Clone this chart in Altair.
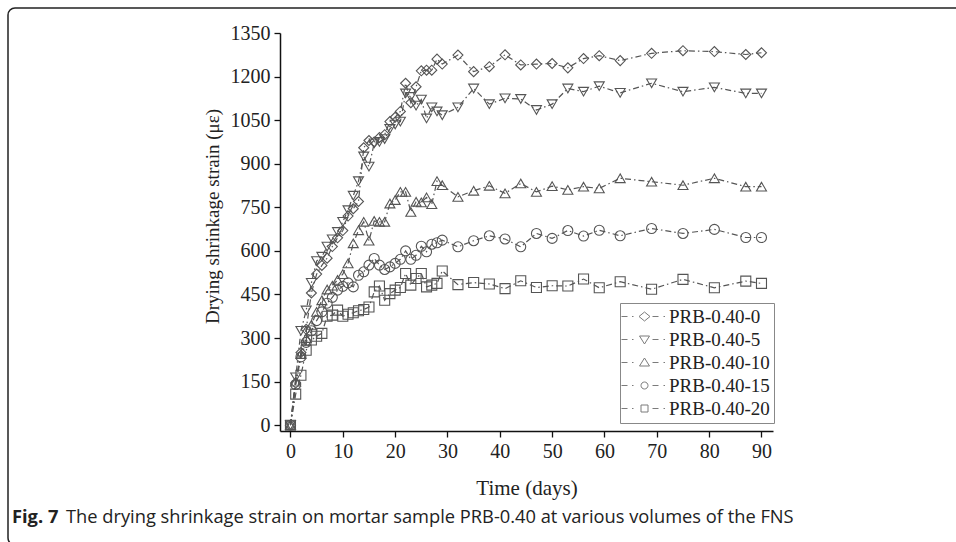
import altair as alt
import pandas as pd

days = list(range(0, 29)) + [29, 32, 35, 38, 41, 44, 47, 50, 53, 56, 59, 63, 69, 75, 81, 87, 90]

names = ["PRB-0.40-0", "PRB-0.40-5", "PRB-0.40-10", "PRB-0.40-15", "PRB-0.40-20"]

s0 = [0, 145, 250, 330, 455, 520, 550, 575, 615, 645, 670, 720, 745, 770, 955, 980, 975, 990, 1000,
      1045, 1060, 1080, 1177, 1110, 1165, 1220, 1222, 1222, 1260,
      1243, 1274, 1217, 1234, 1275, 1240, 1243, 1245, 1230, 1262, 1272, 1255, 1280, 1289, 1286, 1276, 1282]
s5 = [0, 165, 325, 395, 490, 565, 580, 615, 640, 665, 700, 740, 790, 840, 925, 890, 970, 975, 985,
      1020, 1035, 1045, 1142, 1130, 1100, 1121, 1056, 1094, 1080,
      1067, 1094, 1159, 1105, 1125, 1123, 1085, 1105, 1159, 1148, 1167, 1144, 1177, 1148, 1163, 1142, 1142]
s10 = [0, 150, 245, 300, 345, 390, 430, 467, 480, 500, 520, 557, 626, 671, 700, 635, 703, 700, 700,
       763, 775, 803, 803, 734, 769, 767, 784, 761, 840,
       826, 786, 807, 824, 798, 832, 803, 823, 810, 821, 815, 850, 838, 826, 850, 821, 821]
s15 = [0, 140, 235, 285, 325, 360, 390, 420, 440, 465, 478, 490, 476, 516, 528, 551, 574, 551, 536,
       545, 557, 571, 600, 571, 585, 616, 597, 623, 628,
       637, 614, 635, 652, 641, 614, 660, 643, 670, 651, 671, 652, 677, 660, 674, 646, 646]
s20 = [0, 107, 172, 258, 293, 306, 316, 375, 379, 396, 375, 382, 387, 394, 398, 407, 459, 479, 430,
       453, 465, 474, 522, 482, 505, 522, 476, 482, 488,
       531, 484, 491, 486, 470, 497, 474, 480, 479, 503, 473, 494, 468, 502, 473, 496, 488]

x_ticks = list(range(0, 91, 5))
y_ticks = list(range(0, 1351, 75))

caption_bold = "Fig. 7"
caption_text = "The drying shrinkage strain on mortar sample PRB-0.40 at various volumes of the FNS"

rows = []
for n, vals in zip(names, [s0, s5, s10, s15, s20]):
    for d, v in zip(days, vals):
        rows.append({"series": n, "day": d, "strain": v})
df = pd.DataFrame(rows)

SERIF = "Liberation Serif"
INK = "#222222"
LINE = "#555555"

xscale = alt.Scale(domain=[-2, 92.2], nice=False, zero=False)
yscale = alt.Scale(domain=[-20, 1350], nice=False, zero=False)

xaxis = alt.Axis(
    values=x_ticks, labelExpr="datum.value % 10 === 0 ? datum.label : ''",
    title="Time (days)", grid=False, domainColor="#111", domainWidth=1.5,
    tickColor="#111", tickWidth=1.3,
    tickSize={"condition": {"test": "datum.value % 10 === 0", "value": 6}, "value": 3},
    labelFont=SERIF, labelFontSize=20, labelColor=INK, labelPadding=4,
    titleFont=SERIF, titleFontSize=21, titleFontWeight="normal", titleColor=INK, titlePadding=16,
)
yaxis = alt.Axis(
    values=y_ticks, format="d", labelExpr="datum.value % 150 === 0 ? datum.label : ''",
    title="Drying shrinkage strain (με)", grid=False, domainColor="#111", domainWidth=1.5,
    tickColor="#111", tickWidth=1.3,
    tickSize={"condition": {"test": "datum.value % 150 === 0", "value": 6}, "value": 3},
    labelFont=SERIF, labelFontSize=20, labelColor=INK, labelPadding=4,
    titleFont=SERIF, titleFontSize=19, titleFontWeight="normal", titleColor=INK,
    titleX=-68, titleY=183, titleBaseline="middle", titleAngle=270,
)

base = alt.Chart(df)

lines = base.mark_line(color=LINE, strokeWidth=1.2, strokeDash=[6, 3, 1.5, 3]).encode(
    x=alt.X("day:Q", scale=xscale, axis=xaxis),
    y=alt.Y("strain:Q", scale=yscale, axis=yaxis),
    detail="series:N",
)

points = base.mark_point(filled=False, color=LINE, strokeWidth=1.1, opacity=1).encode(
    x=alt.X("day:Q", scale=xscale),
    y=alt.Y("strain:Q", scale=yscale),
    shape=alt.Shape("series:N", scale=alt.Scale(domain=names,
                    range=["diamond", "triangle-down", "triangle-up", "circle", "square"]), legend=None),
    size=alt.Size("series:N", scale=alt.Scale(domain=names, range=[100, 100, 100, 55, 50]), legend=None),
)


def sym(marker):
    # units: 1 unit = 2 px (legend symbolSize 16)
    return "M-11.5,0L-8.5,0M-6.25,0L-5.5,0" + marker + "M4,0L7,0M9.5,0L10.25,0"


legend_paths = [
    sym("M0,-2.25L2.75,0L0,2.25L-2.75,0Z"),
    sym("M-2.5,-1.75L2.5,-1.75L0,2.25Z"),
    sym("M-2.5,1.75L2.5,1.75L0,-2.25Z"),
    sym("M1.75,0A1.75,1.75 0 1,1 -1.75,0A1.75,1.75 0 1,1 1.75,0Z"),
    sym("M-1.75,-1.75L1.75,-1.75L1.75,1.75L-1.75,1.75Z"),
]

legend_layer = base.transform_filter("false").mark_point(filled=False, color="#444", strokeWidth=1).encode(
    shape=alt.Shape("series:N", scale=alt.Scale(domain=names, range=legend_paths),
                    legend=alt.Legend(title=None, orient="none", legendX=340, legendY=270,
                                      strokeColor="#888", fillColor="white", padding=4,
                                      symbolSize=16, symbolStrokeWidth=1, symbolStrokeColor="#444",
                                      symbolOffset=11, labelOffset=15, rowPadding=3,
                                      labelFont=SERIF, labelFontSize=19, labelColor=INK)),
)

one = alt.Chart(pd.DataFrame({"a": [0]}))
border = one.mark_rect(fillOpacity=0, stroke="#222", strokeWidth=1.5, cornerRadius=7).encode(
    x=alt.value(-272), x2=alt.value(700), y=alt.value(-25), y2=alt.value(512))
cap1 = one.mark_text(text=caption_bold, font="Open Sans", fontWeight="bold", fontSize=18.3,
                     align="left", baseline="alphabetic", color="#222").encode(
    x=alt.value(-268), y=alt.value(490))
cap2 = one.mark_text(text=caption_text, font="Open Sans", fontSize=18.3,
                     align="left", baseline="alphabetic", color="#222").encode(
    x=alt.value(-214), y=alt.value(490))

chart = alt.layer(border, lines, points, legend_layer, cap1, cap2).resolve_scale(
    shape="independent", size="independent"
).properties(
    width=493, height=398,
    autosize=alt.AutoSizeParams(type="none"),
    padding={"left": 280, "top": 33, "right": 183, "bottom": 111},
    background="white",
).configure_view(stroke=None)

chart.save("out.html", embed_options={"renderer": "svg", "actions": False})
